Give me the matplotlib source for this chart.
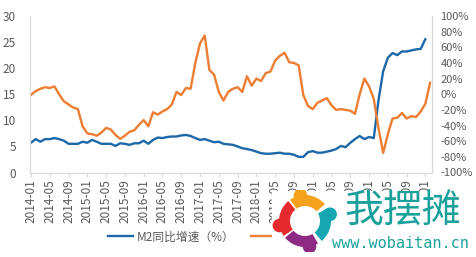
import matplotlib
matplotlib.use('Agg')
import matplotlib.pyplot as plt
import numpy as np
from matplotlib.lines import Line2D
from matplotlib.patches import Rectangle, Wedge, Circle

plt.rcParams['font.family'] = ['Noto Sans CJK SC', 'DejaVu Sans']

# data (monthly, 2014-01 .. 2021-02)
m2_growth = [5.7, 6.4, 5.9, 6.4, 6.4, 6.6, 6.4, 6.1, 5.5, 5.5, 5.5, 5.9, 5.7, 6.25, 5.9, 5.5,
             5.5, 5.5, 5.1, 5.6, 5.5, 5.3, 5.6, 5.6, 6.1, 5.5, 6.25, 6.7, 6.6, 6.8, 6.9, 6.9,
             7.1, 7.2, 7.0, 6.6, 6.25, 6.4, 6.1, 5.8, 5.9, 5.5, 5.4, 5.3, 5.0, 4.65, 4.5, 4.3,
             4.0, 3.7, 3.6, 3.6, 3.7, 3.8, 3.6, 3.6, 3.4, 3.0, 3.0, 3.9, 4.1, 3.8, 3.8, 4.0,
             4.2, 4.5, 5.1, 4.85, 5.7, 6.4, 7.0, 6.4, 6.8, 6.6, 13.8, 19.4, 22.0, 22.9, 22.5,
             23.2, 23.2, 23.4, 23.6, 23.7, 25.6, np.nan]
other_growth = [-1, 4, 7, 9, 8, 10, 0, -9, -13, -17, -19, -41, -50, -51, -53, -49,
                -43, -45, -52, -57, -53, -48, -46, -39, -33, -41, -23, -26, -22, -19, -13, 3,
                -1, 8, 7, 40, 65, 75, 31, 25, 3, -8, 3, 7, 9, 3, 23, 11,
                20, 17, 27, 29, 43, 49, 53, 41, 40, 37, -1, -15, -19, -11, -8, -5,
                -14, -20, -19, -20, -21, -25, 0, 20, 10, -6, -43, -75, -51, -31, -30,
                -24, -31, -28, -29, -22, -12, 15]
tick_labels = ['2014-01', '2014-05', '2014-09', '2015-01', '2015-05', '2015-09',
               '2016-01', '2016-05', '2016-09', '2017-01', '2017-05', '2017-09',
               '2018-01', '2018-05', '2018-09', '2019-01', '2019-05', '2019-09',
               '2020-01', '2020-05', '2020-09', '2021-01']

blue = '#1c68a8'
orange = '#ed7d31'
grey_txt = '#595959'
line_grey = '#d9d9d9'

W, H = 476, 257
fig = plt.figure(figsize=(W / 100, H / 100), dpi=100)
ax = fig.add_axes([30 / W, 1 - 172.5 / H, 402 / W, 156.5 / H])
ax2 = ax.twinx()

x = np.arange(len(other_growth))
ax.plot(x, m2_growth, color=blue, lw=1.7, solid_capstyle='round')
ax2.plot(x, other_growth, color=orange, lw=1.7, solid_capstyle='round')

ax.set_xlim(-0.2, 85.4)
ax.set_ylim(0, 30)
ax.set_yticks(range(0, 31, 5))
ax2.set_ylim(-100, 100)
ax2.set_yticks(range(-100, 101, 20))
ax2.set_yticklabels([f'{v}%' for v in range(-100, 101, 20)])
ax.set_xticks(np.arange(0, 85, 4))
ax.set_xticklabels(tick_labels, rotation=90)

for a in (ax, ax2):
    a.spines['top'].set_visible(False)
    for s in ('left', 'right', 'bottom'):
        a.spines[s].set_color(line_grey)
        a.spines[s].set_linewidth(0.8)
    a.tick_params(axis='y', length=0, labelsize=8.5, labelcolor=grey_txt)
ax.tick_params(axis='y', pad=10)
ax2.tick_params(axis='y', pad=6, labelsize=8)
ax.tick_params(axis='x', length=3, color=line_grey, labelsize=8.5, labelcolor=grey_txt, pad=2)

# legend
handles = [Line2D([], [], color=blue, lw=1.7), Line2D([], [], color=orange, lw=1.7)]
fig.legend(handles, ['M2同比增速（%）', ''], loc='center left',
           bbox_to_anchor=(108 / W, 1 - 237 / H), ncol=2, frameon=False, borderpad=0,
           borderaxespad=0, fontsize=8.5, handlelength=2.1, handletextpad=0.3,
           columnspacing=1.4, labelcolor=grey_txt)

# watermark
fig.add_artist(Rectangle((272 / W, 0), 1 - 272 / W, 1 - 191 / H, transform=fig.transFigure,
                         facecolor='white', edgecolor='none', zorder=10))
lax = fig.add_axes([272 / W, 1 - 252 / H, 66 / W, 62 / H], zorder=11)
lax.set_xlim(-1.65, 1.65)
lax.set_ylim(-1.55, 1.55)
lax.set_aspect('equal')
lax.axis('off')
parts = [('#f4a21e', 40, 125, 100), ('#16a6b2', -50, 30, 15),
         ('#8e2a84', -140, -60, -80), ('#e62b2e', 130, 215, 190)]
for col, t1, t2, th in parts:
    lax.add_patch(Wedge((0, 0), 1.3, t1, t2, width=0.55, facecolor=col, edgecolor='none'))
    hx, hy = 1.3 * np.cos(np.radians(th)), 1.3 * np.sin(np.radians(th))
    lax.add_patch(Circle((hx, hy), 0.34, facecolor=col, edgecolor='none'))

fig.text(403 / W, 1 - 212 / H, '我摆摊', color='#1aa19c', fontsize=28,
         ha='center', va='center', zorder=12, family=['Noto Sans CJK SC'])
fig.text(400 / W, 1 - 244 / H, 'www.wobaitan.cn', color='#1aa19c', fontsize=11,
         ha='center', va='center', zorder=12, family=['DejaVu Sans Mono'])

fig.savefig('out.png', dpi=100)
